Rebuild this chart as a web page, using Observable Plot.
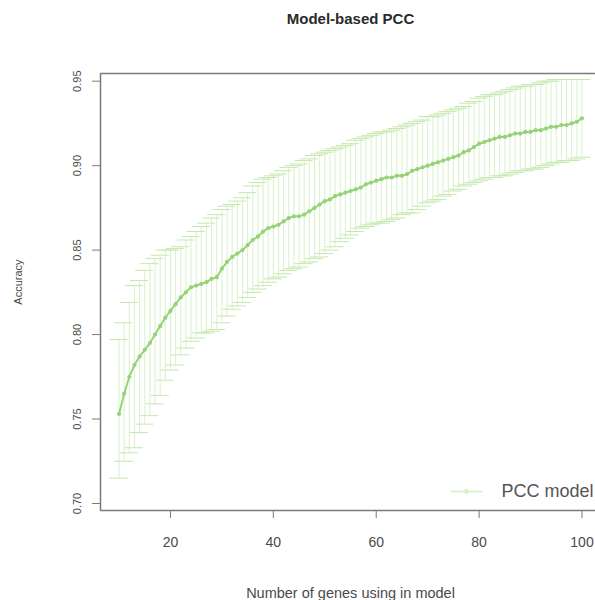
<!DOCTYPE html>
<html>
<head>
<meta charset="utf-8">
<script src="https://cdn.jsdelivr.net/npm/d3@7"></script>
<script src="https://cdn.jsdelivr.net/npm/@observablehq/plot@0.6"></script>
<style>
  html, body { margin: 0; padding: 0; background: #fff; overflow: hidden; }
  svg { display: block; max-width: none !important; }
</style>
</head>
<body>
<div id="chart"></div>
<script>
const title = "Model-based PCC";
const xLabel = "Number of genes using in model";
const yLabel = "Accuracy";
const legendLabel = "PCC model";
const xTicks = [20, 40, 60, 80, 100];
const yTicks = [0.70, 0.75, 0.80, 0.85, 0.90, 0.95];

const genes = [10,11,12,13,14,15,16,17,18,19,20,21,22,23,24,25,26,27,28,29,30,31,32,33,34,35,36,37,38,39,40,41,42,43,44,45,46,47,48,49,50,51,52,53,54,55,56,57,58,59,60,61,62,63,64,65,66,67,68,69,70,71,72,73,74,75,76,77,78,79,80,81,82,83,84,85,86,87,88,89,90,91,92,93,94,95,96,97,98,99,100];

const meanAcc = [0.753,0.765,0.775,0.782,0.787,0.791,0.795,0.800,0.805,0.810,
0.814,0.818,0.822,0.825,0.828,0.829,0.830,0.831,0.833,0.834,
0.839,0.843,0.846,0.848,0.850,0.853,0.856,0.858,0.861,0.863,
0.864,0.865,0.867,0.869,0.870,0.870,0.871,0.873,0.875,0.877,
0.879,0.880,0.882,0.883,0.884,0.885,0.886,0.887,0.889,0.890,
0.891,0.892,0.893,0.893,0.894,0.894,0.895,0.897,0.898,0.899,
0.900,0.901,0.902,0.903,0.904,0.905,0.906,0.908,0.909,0.911,
0.913,0.914,0.915,0.916,0.917,0.917,0.918,0.919,0.919,0.920,
0.920,0.921,0.921,0.922,0.923,0.923,0.924,0.924,0.925,0.926,0.928];

const upperAcc = [0.797,0.807,0.819,0.829,0.832,0.838,0.842,0.845,0.847,0.850,
0.850,0.851,0.852,0.856,0.858,0.861,0.864,0.866,0.869,0.871,
0.874,0.876,0.877,0.879,0.881,0.884,0.888,0.890,0.892,0.893,
0.894,0.895,0.897,0.899,0.900,0.901,0.903,0.904,0.906,0.907,
0.908,0.909,0.910,0.911,0.912,0.913,0.915,0.916,0.917,0.918,
0.919,0.920,0.920,0.921,0.922,0.923,0.924,0.925,0.926,0.927,
0.929,0.929,0.930,0.931,0.932,0.933,0.934,0.935,0.937,0.938,
0.940,0.941,0.942,0.942,0.943,0.944,0.945,0.946,0.947,0.947,
0.948,0.948,0.949,0.950,0.950,0.951,0.951,0.951,0.951,0.951,0.951];

const lowerAcc = [0.715,0.725,0.730,0.733,0.742,0.747,0.752,0.759,0.764,0.773,
0.779,0.782,0.788,0.792,0.796,0.798,0.801,0.801,0.802,0.803,
0.807,0.811,0.815,0.817,0.819,0.822,0.825,0.827,0.829,0.831,
0.833,0.834,0.836,0.838,0.839,0.840,0.842,0.843,0.845,0.846,
0.848,0.850,0.852,0.855,0.857,0.859,0.861,0.863,0.864,0.865,
0.866,0.866,0.867,0.868,0.869,0.871,0.872,0.872,0.874,0.876,
0.878,0.879,0.880,0.882,0.883,0.885,0.886,0.888,0.889,0.890,
0.891,0.892,0.893,0.893,0.894,0.894,0.895,0.896,0.897,0.897,
0.898,0.898,0.899,0.900,0.901,0.902,0.902,0.903,0.903,0.904,0.905];

const data = genes.map((n, i) => ({n, mean: meanAcc[i], lo: lowerAcc[i], hi: upperAcc[i]}));

const font = "'Liberation Sans', Arial, Helvetica, sans-serif";
const lineColor = "#95d377";
const barColor = "#d8f1c9";
const capColor = "#c4e8ae";
const capHalf = 1.75;

const lineSymbol = { draw(ctx) { ctx.moveTo(-16, 0); ctx.lineTo(16, 0); } };

const chart = Plot.plot({
  width: 600,
  height: 600,
  marginTop: 73,
  marginBottom: 90,
  marginLeft: 100,
  marginRight: 0,
  style: { fontFamily: font, background: "#fff", overflow: "visible", maxWidth: "none" },
  x: { domain: [6.4, 103.6] },
  y: { domain: [0.69586, 0.95456] },
  marks: [
    Plot.ruleX(data, { x: "n", y1: "lo", y2: "hi", stroke: barColor, strokeWidth: 1 }),
    Plot.ruleY(data, { y: "lo", x1: d => d.n - capHalf, x2: d => d.n + capHalf, stroke: capColor, strokeWidth: 1 }),
    Plot.ruleY(data, { y: "hi", x1: d => d.n - capHalf, x2: d => d.n + capHalf, stroke: capColor, strokeWidth: 1 }),
    Plot.line(data, { x: "n", y: "mean", stroke: lineColor, strokeWidth: 2 }),
    Plot.dot(data, { x: "n", y: "mean", r: 2.1, fill: lineColor, stroke: "none" }),
    Plot.frame({ stroke: "#7a7a7a", strokeWidth: 1.5 }),
    Plot.axisX({ ticks: xTicks, tickSize: 8, tickPadding: 19, tickFormat: d => String(d), fontSize: 14, label: null, color: "#4a4a4a", stroke: "#7a7a7a" }),
    Plot.axisY({ ticks: yTicks, tickSize: 8, tickFormat: () => "", label: null, stroke: "#7a7a7a" }),
    Plot.text(yTicks, { y: d => d, text: d => d.toFixed(2), frameAnchor: "left", dx: -23, rotate: -90, fontSize: 11, fill: "#4a4a4a", textAnchor: "middle", lineAnchor: "middle" }),
    Plot.text([yLabel], { text: d => d, frameAnchor: "left", dx: -82, dy: -10, rotate: -90, fontSize: 11, fill: "#4a4a4a", textAnchor: "middle", lineAnchor: "middle" }),
    Plot.text([xLabel], { text: d => d, frameAnchor: "bottom", dy: 83, fontSize: 14.5, fill: "#4a4a4a", lineAnchor: "middle" }),
    Plot.text([title], { text: d => d, frameAnchor: "top", dy: -54, fontSize: 15, fontWeight: "bold", fill: "#2a2a2a", lineAnchor: "middle" }),
    Plot.dot([legendLabel], { frameAnchor: "bottom-right", dx: -134, dy: -19, symbol: lineSymbol, r: 4, stroke: "#d3f0c4", strokeWidth: 1.5, fill: "none" }),
    Plot.dot([legendLabel], { frameAnchor: "bottom-right", dx: -134, dy: -19, r: 2.4, fill: "#d3f0c4", stroke: "none" }),
    Plot.text([legendLabel], { text: d => d, frameAnchor: "bottom-right", dx: -7, dy: -19, fontSize: 18, fill: "#555", textAnchor: "end", lineAnchor: "middle" })
  ]
});

document.getElementById("chart").appendChild(chart);
</script>
</body>
</html>
